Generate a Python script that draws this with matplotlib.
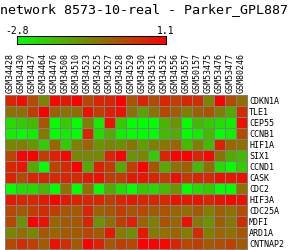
import numpy as np
import matplotlib
matplotlib.use("Agg")
import matplotlib.pyplot as plt
from matplotlib.colors import LinearSegmentedColormap, Normalize

title = "network 8573-10-real - Parker_GPL887"
samples = ["GSM34428", "GSM34430", "GSM34437", "GSM34464", "GSM34476", "GSM34508",
           "GSM34510", "GSM34523", "GSM34525", "GSM34527", "GSM34528", "GSM34529",
           "GSM34530", "GSM34531", "GSM34532", "GSM34556", "GSM34557", "GSM50157",
           "GSM53475", "GSM53476", "GSM53477", "GSM80246"]
genes = ["CDKN1A", "TLE1", "CEP55", "CCNB1", "HIF1A", "SIX1", "CCND1", "CASK",
         "CDC2", "HIF3A", "CDC25A", "MDFI", "ARD1A", "CNTNAP2"]
vmin, vmax = -2.8, 1.1

CDKN1A = [0.52, 0.91, -0.07, -0.93, 0.98, 0.71, 1.1, 0.01, 0.55, 0.52, 1.1,
          -0.19, 0.59, -0.07, 0.52, 0.13, 0.52, 0.40, -0.93, 1.1, -0.07, -0.58]
TLE1 = [-0.66, -0.58, 0.13, 1.1, -0.38, -0.66, -0.58, 0.83, 0.13, 0.59, 0.83,
        -0.66, -1.36, -0.66, 0.01, -0.34, -0.85, -0.38, -0.15, -0.85, -1.51, 0.40]
CEP55 = [-2.29, -2.02, -1.75, -0.19, -2.8, -2.02, -2.8, -0.85, -2.53, 0.83, -2.02,
         -2.8, -2.8, -2.8, -1.63, -1.16, -2.8, -1.75, -2.02, -2.29, -2.53, 0.83]
CCNB1 = [-2.53, -2.8, -2.53, -0.73, -2.8, -2.53, -2.8, 0.55, -2.29, -1.51, -2.53,
         -2.8, -2.8, -2.8, -1.75, -1.51, -2.8, -2.53, -1.75, -2.8, -2.53, -0.07]
HIF1A = [-0.97, -0.85, -1.16, -2.02, -0.46, -2.02, -0.85, -0.46, -1.16, -0.97, -1.08,
         -0.70, -1.32, -0.85, -0.70, -0.46, -1.75, -0.85, -1.75, 0.59, -0.46, -0.62]
SIX1 = [0.01, 1.1, 1.1, 0.13, 0.59, 1.02, -0.97, -0.97, -0.97, 0.59, 1.1,
        -1.16, -0.93, -2.02, 0.55, 1.1, 1.1, 0.55, 0.98, -0.66, -1.51, -1.75]
CCND1 = [0.52, 0.71, -1.51, -2.8, 0.05, 0.40, 1.1, -1.51, 0.59, 0.13, -1.51,
         0.13, 1.1, -0.19, -1.51, -0.66, -0.38, -1.75, -0.62, -2.29, -2.8, -2.02]
CASK = [0.59, -0.07, 0.55, 0.52, 0.40, 0.55, 0.40, 0.71, 0.83, 0.13, 0.13,
        0.71, 0.71, 0.52, 0.13, 0.83, 0.13, 0.55, 0.40, 0.83, 0.71, 0.83]
CDC2 = [-2.8, -2.29, -2.29, -1.75, -2.8, -0.62, -2.8, -0.66, -2.8, -1.51, -2.29,
        -2.8, -2.02, -2.29, -1.75, -1.16, -2.8, -2.29, -2.02, -2.8, -2.8, -0.66]
HIF3A = [0.71, 0.55, 0.55, 0.71, 1.1, 0.71, 0.59, 0.52, 0.55, 0.13, 0.55,
         0.71, 0.52, 0.55, 0.55, 0.83, 0.71, 0.83, 0.55, 0.83, 1.02, 0.83]
CDC25A = [0.01, -0.30, 0.13, 0.40, 0.13, -0.23, -0.30, 0.55, -0.38, -0.23, 0.13,
          -0.23, 0.01, -0.30, -0.19, -0.46, -0.62, -0.30, -0.85, -0.38, -0.62, -0.11]
MDFI = [0.01, -1.16, 1.1, 0.83, -0.46, -0.30, -0.23, 0.52, -1.16, -0.62, 0.13,
        0.59, -0.46, -0.85, -0.15, -0.46, 0.83, -0.77, -1.16, -0.34, -0.77, 0.40]
ARD1A = [-0.97, -0.62, -0.97, -0.23, -0.46, -0.30, -0.30, 0.01, -0.30, 0.71, -0.85,
         -1.08, 0.71, -0.77, -0.62, -0.46, -0.85, 0.40, -0.85, -0.46, -0.62, -0.23]
CNTNAP2 = [0.01, 0.40, 0.13, -0.30, 0.83, 0.40, -0.30, 1.1, 0.59, -0.23, 0.13,
           0.01, 1.1, 1.1, 1.02, 0.55, 0.01, 0.13, -0.30, -0.11, 0.13, -0.30]

data = np.array([CDKN1A, TLE1, CEP55, CCNB1, HIF1A, SIX1, CCND1, CASK,
                 CDC2, HIF3A, CDC25A, MDFI, ARD1A, CNTNAP2])

W, H = 292, 250
fig = plt.figure(figsize=(W / 100, H / 100), dpi=100)
fig.patch.set_facecolor("white")
cmap = LinearSegmentedColormap.from_list("gr", [(0, 1, 0), (1, 0, 0)])
norm = Normalize(vmin=vmin, vmax=vmax)
mono = "DejaVu Sans Mono"

# title
fig.text(0 / W, 1 - 3 / H, title, ha="left", va="top", fontsize=9.6, family=mono)

# colorbar
cax = fig.add_axes([17 / W, 1 - 44 / H, 149 / W, 8 / H])
grad = np.linspace(vmin, vmax, 256).reshape(1, -1)
cax.imshow(grad, aspect="auto", cmap=cmap, norm=norm,
           extent=[vmin, vmax, 0, 1])
cax.set_xticks([])
cax.set_yticks([])
for s in cax.spines.values():
    s.set_linewidth(0.75)
    s.set_color("black")
fig.text(17 / W, 1 - 34 / H, "-2.8", ha="center", va="baseline", fontsize=7, family=mono)
fig.text(166 / W, 1 - 34 / H, "1.1", ha="center", va="baseline", fontsize=7, family=mono)

# heatmap
ax = fig.add_axes([5 / W, 1 - 249 / H, 242 / W, 154 / H])
nr, nc = data.shape
mesh = ax.pcolormesh(np.arange(nc + 1), np.arange(nr + 1), data, cmap=cmap, norm=norm,
                     edgecolors="#808080", linewidth=0.72, antialiased=False)
mesh.set_clip_on(False)
ax.set_xlim(0, nc)
ax.set_ylim(nr, 0)
for s in ax.spines.values():
    s.set_visible(False)
ax.xaxis.tick_top()
ax.set_xticks(np.arange(nc) + 0.5)
ax.set_xticklabels(samples, rotation=90, fontsize=6, family=mono)
ax.yaxis.tick_right()
ax.set_yticks(np.arange(nr) + 0.5)
ax.set_yticklabels(genes, fontsize=6, family=mono)
ax.tick_params(length=0, pad=1.5)

fig.savefig("out.png", dpi=100, facecolor="white")
